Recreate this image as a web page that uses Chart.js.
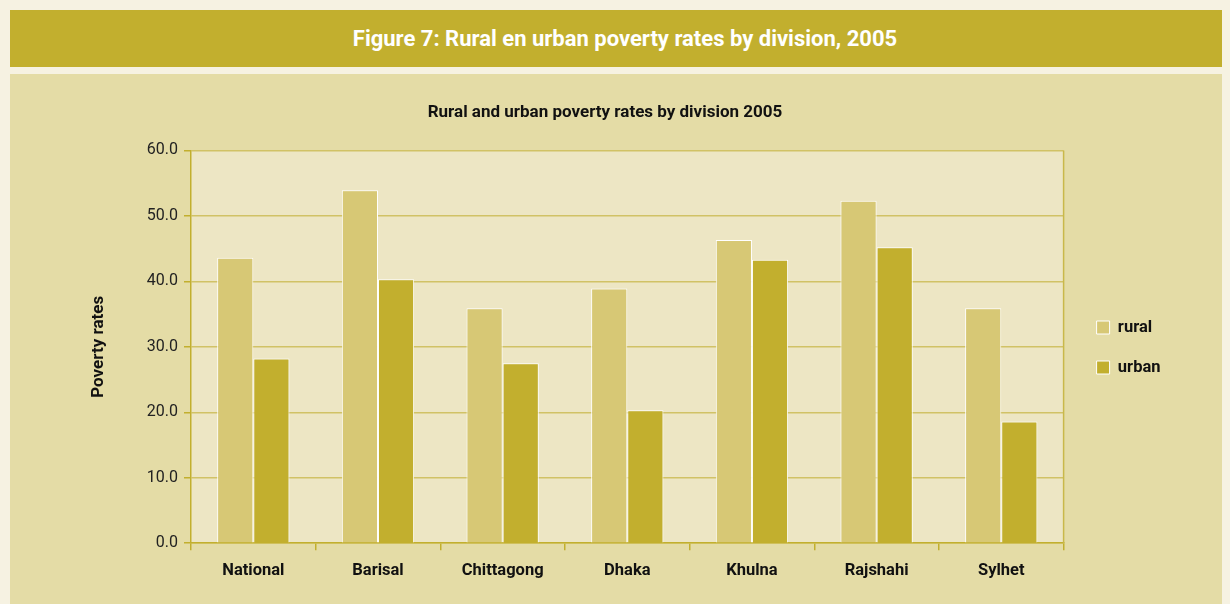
<!DOCTYPE html>
<html>
<head>
<meta charset="utf-8">
<script src="https://cdn.jsdelivr.net/npm/chart.js@4/dist/chart.umd.min.js"></script>
<style>
  html, body { margin: 0; padding: 0; background: #F6F2E2; width: 1230px; height: 604px; overflow: hidden; }
  #header {
    position: absolute; left: 10px; top: 10px; width: 1212px; height: 57px;
    background: #C2AF2E; color: #FFFFFF;
    font-family: Roboto, sans-serif;
    font-weight: bold; font-size: 22px; line-height: 57px; text-align: center;
    text-indent: 18px;
  }
  #panel {
    position: absolute; left: 10px; top: 74px; width: 1212px; height: 530px;
    background: #E4DCA6;
  }
  #wrap { position: absolute; left: 0; top: 0; width: 1212px; height: 530px; }
</style>
</head>
<body>
<div id="header">Figure 7: Rural en urban poverty rates by division, 2005</div>
<div id="panel"><div id="wrap"><canvas id="c"></canvas></div></div>
<script>
const categories = ["National", "Barisal", "Chittagong", "Dhaka", "Khulna", "Rajshahi", "Sylhet"];
const ruralValues = [43.6, 53.9, 35.9, 38.9, 46.3, 52.3, 35.9];
const urbanValues = [28.2, 40.3, 27.5, 20.3, 43.3, 45.2, 18.6];
const seriesNames = ["rural", "urban"];
const yTicks = [0, 10, 20, 30, 40, 50, 60];

const boldFont = "Roboto, sans-serif";

const plotBg = {
  id: 'plotBg',
  afterLayout(chart) {
    if (chart.legend) { chart.legend.left += 9.5; chart.legend.right += 9.5; }
  },
  beforeDraw(chart) {
    const {ctx, chartArea: a} = chart;
    ctx.save();
    ctx.fillStyle = '#EDE6C4';
    ctx.fillRect(a.left, a.top, a.right - a.left, a.bottom - a.top);
    ctx.restore();
  },
  afterDatasetsDraw(chart) {
    const {ctx, chartArea: a} = chart;
    ctx.save();
    ctx.strokeStyle = '#C9B84A';
    ctx.lineWidth = 1.5;
    ctx.beginPath();
    ctx.moveTo(a.right, a.top);
    ctx.lineTo(a.right, a.bottom);
    ctx.stroke();
    ctx.restore();
  }
};

new Chart(document.getElementById('c'), {
  type: 'bar',
  data: {
    labels: categories,
    datasets: [
      { label: seriesNames[0], data: ruralValues, backgroundColor: '#D7C875', borderColor: '#FFFFFF', borderWidth: 1, borderSkipped: 'bottom' },
      { label: seriesNames[1], data: urbanValues, backgroundColor: '#C2AF2E', borderColor: '#FFFFFF', borderWidth: 1, borderSkipped: 'bottom' }
    ]
  },
  options: {
    responsive: true,
    maintainAspectRatio: false,
    animation: false,
    layout: { padding: { left: 39, top: 29, bottom: 12, right: 61 } },
    datasets: { bar: { categoryPercentage: 0.58, barPercentage: 1.0 } },
    plugins: {
      title: {
        display: true,
        text: 'Rural and urban poverty rates by division 2005',
        color: '#111111',
        font: { family: boldFont, size: 17, weight: 'bold' },
        padding: { top: 0, bottom: 27 }
      },
      legend: {
        position: 'right',
        labels: {
          color: '#111111',
          font: { family: boldFont, size: 16.5, weight: 'bold' },
          boxWidth: 13, boxHeight: 13,
          padding: 23.5
        }
      },
      tooltip: { enabled: false }
    },
    scales: {
      x: {
        grid: { offset: true, drawOnChartArea: false, drawTicks: true, tickLength: 7, tickColor: '#C2AF2E', lineWidth: 1.5 },
        border: { color: '#C2AF2E', width: 1.5 },
        ticks: { color: '#111111', font: { family: boldFont, size: 16.5, weight: 'bold' }, padding: 11, maxRotation: 0 }
      },
      y: {
        min: 0, max: 60,
        afterBuildTicks(scale) { scale.ticks = yTicks.map(v => ({ value: v })); },
        afterFit(scale) { scale.width = 142; },
        grid: { color: '#D1C266', lineWidth: 1.5, drawTicks: true, tickLength: 7, tickColor: '#C2AF2E' },
        border: { color: '#C2AF2E', width: 1.5 },
        ticks: { color: '#222222', font: { family: 'Roboto, sans-serif', size: 16 }, padding: 6, callback: v => Number(v).toFixed(1) },
        title: { display: true, text: 'Poverty rates', color: '#111111', font: { family: boldFont, size: 17, weight: 'bold' }, padding: { top: 40, bottom: 0 } }
      }
    }
  },
  plugins: [plotBg]
});
</script>
</body>
</html>
